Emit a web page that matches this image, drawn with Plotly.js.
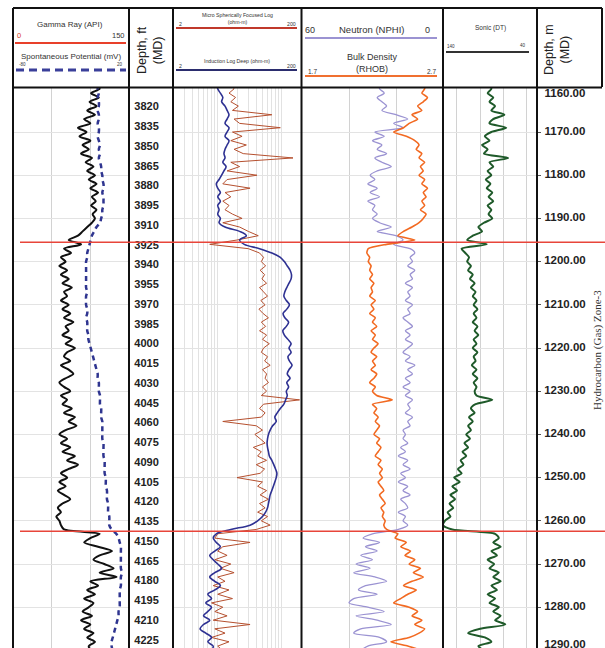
<!DOCTYPE html>
<html><head><meta charset="utf-8">
<script src="https://cdn.plot.ly/plotly-3.0.1.min.js"></script>
<style>html,body{margin:0;padding:0;background:#fff;}#chart{width:605px;height:648px;}</style>
</head><body><div id="chart"></div>
<script>
// ---------------- data ----------------
const depthM = [1159,
1160,1161,1162,1163,1164,1165,1166,1167,1168,1169,
1170,1171,1172,1173,1174,1175,1176,1177,1178,1179,
1180,1181,1182,1183,1184,1185,1186,1187,1188,1189,
1190,1191,1192,1193,1194,1195,1196,1197,1198,1199,
1200,1201,1202,1203,1204,1205,1206,1207,1208,1209,
1210,1211,1212,1213,1214,1215,1216,1217,1218,1219,
1220,1221,1222,1223,1224,1225,1226,1227,1228,1229,
1230,1231,1232,1233,1234,1235,1236,1237,1238,1239,
1240,1241,1242,1243,1244,1245,1246,1247,1248,1249,
1250,1251,1252,1253,1254,1255,1256,1257,1258,1259,
1260,1261,1262,1263,1264,1265,1266,1267,1268,1269,
1270,1271,1272,1273,1274,1275,1276,1277,1278,1279,
1280,1281,1282,1283,1284,1285,1286,1287,1288,1289,
1290];

const gammaRay = [108,
112,101,111,99,108,96,106,92,100,84,
95,86,100,90,98,88,102,94,104,96,
106,98,108,100,110,102,107,101,108,103,
106,102,96,90,84,72,88,66,75,62,
68,60,70,62,72,64,76,66,70,62,
72,64,74,66,78,68,72,64,76,68,
80,70,66,74,62,72,78,68,60,66,
74,62,70,64,76,66,80,72,82,68,
60,70,62,74,64,80,70,84,72,62,
70,60,68,58,66,74,64,58,62,56,
60,62,66,112,100,92,110,128,112,104,
118,130,112,134,100,110,96,106,92,104,
98,90,102,88,100,92,104,96,106,98,
100];

const spontPot = [-7,
-7,-6,-7,-6,-6,-7,-6,-6,-7,-6,
-6,-7,-6,-5,-6,-5,-6,-5,-4,-4,
-3,-3,-2,-2,-3,-2,-2,-2,-3,-3,
-4,-5,-8,-10,-12,-13,-14,-15,-16,-16,
-17,-17,-17,-17,-17,-17,-17,-16,-17,-17,
-17,-16,-16,-17,-16,-16,-16,-15,-15,-14,
-13,-12,-11,-10,-9,-8,-7,-7,-6,-6,
-6,-5,-5,-5,-4,-4,-4,-3,-3,-3,
-3,-3,-2,-2,-2,-2,-1,-1,-1,-1,
0,0,0,1,1,1,2,2,2,3,
3,3,5,9,11,12,13,13,13,13,
13,13,14,13,13,13,12,12,12,12,
12,11,11,10,9,8,7,6,5,5,
6];

const msfl = [16,
18,15,19,16,21,17,70,18,22,95,
17,24,16,28,18,25,150,16,22,14,
41,14,12,32,13,16,12,15,13,17,
24,12,22,30,43,20,7.5,30,45,52,
48,56,46,54,49,58,45,52,60,47,
55,44,51,62,48,56,45,58,50,64,
52,48,60,54,66,50,58,55,62,50,
58,48,190,52,45,55,48,12,40,50,
38,46,55,36,48,42,58,40,54,46,
20,50,42,58,46,62,45,55,42,60,
48,66,40,10,9,32,12,10,14,9,
16,11,18,10,13,8.5,15,10,17,8,
12,9,14,8.5,32,9,13,8,15,10,
12];

const ild = [10,
10,11,12,11.5,13,14,15,14,13,15,
14,13,15,14,13,12.5,13,12,13.5,12.5,
11.5,10.5,9.5,10,11,10,11,10,10.5,10,
11,10.5,13,22,28,22,26,45,70,95,
110,122,135,142,140,130,120,112,108,118,
132,120,105,112,128,118,104,110,125,140,
130,140,125,132,145,130,122,135,120,128,
118,122,115,108,95,85,78,82,72,66,
62,60,59,60,62,64,70,75,80,84,
82,78,74,70,66,64,62,60,56,50,
42,32,16,9.5,8.5,9.5,11,9,7.5,8.5,
10,11.5,9,7.5,9,11,9,7,8,6.5,
8,7,6,7.5,6,5.3,6.5,8,7,8.5,
8];

const nphi = [27,
27,25,28,26,24,26,20,15,21,17,
29,25,30,26,28,24,29,26,22,28,
31,29,32,28,31,27,32,29,30,28,
30,27,22,28,20,17,21,14,12,14,
13,15,12,14,13,16,13,15,14,16,
13,15,14,17,15,13,16,14,16,13,
15,17,14,16,12,15,13,16,14,17,
14,16,13,15,14,16,13,15,14,17,
16,17,15,18,16,19,15,17,14,18,
16,19,15,17,14,18,16,15,19,16,
17,15,19,30,34,27,33,28,35,30,
37,31,38,29,24,33,36,28,38,40,
32,25,37,28,22,35,38,27,24,32,
35];

const rhob = [2.57,
2.57,2.55,2.59,2.56,2.52,2.55,2.48,2.52,2.46,2.42,
2.35,2.44,2.50,2.53,2.51,2.55,2.53,2.57,2.54,2.56,
2.53,2.57,2.55,2.59,2.56,2.58,2.55,2.57,2.54,2.58,
2.56,2.53,2.48,2.42,2.38,2.50,2.30,2.17,2.16,2.18,
2.17,2.19,2.18,2.20,2.18,2.21,2.19,2.20,2.18,2.22,
2.19,2.21,2.18,2.22,2.20,2.23,2.19,2.22,2.20,2.24,
2.21,2.19,2.23,2.20,2.22,2.19,2.23,2.21,2.18,2.22,
2.20,2.23,2.34,2.20,2.23,2.21,2.24,2.22,2.25,2.23,
2.21,2.25,2.23,2.26,2.24,2.22,2.26,2.24,2.27,2.25,
2.27,2.24,2.26,2.28,2.25,2.27,2.29,2.26,2.28,2.27,
2.29,2.28,2.30,2.38,2.36,2.44,2.40,2.47,2.43,2.50,
2.46,2.54,2.49,2.56,2.48,2.42,2.51,2.45,2.40,2.35,
2.46,2.52,2.48,2.55,2.50,2.57,2.53,2.46,2.33,2.45,
2.55];

const sonicDT = [90,
88,92,86,90,84,88,74,86,90,72,
88,95,90,98,92,96,70,90,86,92,
88,94,89,93,87,91,86,92,88,91,
87,96,102,98,108,114,93,120,116,112,
114,110,113,108,111,106,110,105,108,104,
107,103,107,104,108,103,106,102,107,104,
108,103,107,105,109,104,108,103,107,104,
106,104,87,105,110,106,112,108,113,110,
115,111,117,113,119,115,121,118,124,120,
128,122,130,125,132,127,133,129,135,132,
138,140,130,84,80,86,78,88,82,92,
85,90,80,86,78,88,82,92,84,90,
80,86,78,84,73,100,113,95,88,102,
96];

const zoneTopsM = [1195.5, 1262.4];
const depthFtLabels = [3820,3835,3850,3865,3880,3895,3910,3925,3940,3955,3970,3985,4000,4015,
  4030,4045,4060,4075,4090,4105,4120,4135,4150,4165,4180,4195,4210,4225];
const depthMLabels = [1160,1170,1180,1190,1200,1210,1220,1230,1240,1250,1260,1270,1280,1290];
const zoneLabel = 'Hydrocarbon (Gas) Zone-3';

// ---------------- layout helpers ----------------
const W = 605, H = 648;
const px = v => v / W;
const py = v => (H - v) / H;
const FT_PER_M = 3.28084;
const yTopM = 1159.81, yBotM = 1289.44;
const FONT = 'Liberation Sans, Arial, sans-serif';
const dataDomain = [0, py(88)];

const traces = [
  {x: gammaRay, y: depthM, xaxis: 'x', yaxis: 'y', mode: 'lines', line: {color: '#111', width: 2, shape: 'spline', smoothing: 0.8}, hoverinfo: 'skip'},
  {x: spontPot, y: depthM, xaxis: 'x2', yaxis: 'y', mode: 'lines', line: {color: '#2f3590', width: 2.5, dash: '5px,4px', shape: 'spline'}, hoverinfo: 'skip'},
  {x: msfl, y: depthM, xaxis: 'x4', yaxis: 'y', mode: 'lines', line: {color: '#b5502f', width: 1}, hoverinfo: 'skip'},
  {x: ild, y: depthM, xaxis: 'x4', yaxis: 'y', mode: 'lines', line: {color: '#2e3192', width: 1.6, shape: 'spline'}, hoverinfo: 'skip'},
  {x: nphi, y: depthM, xaxis: 'x5', yaxis: 'y', mode: 'lines', line: {color: '#9b93d2', width: 1.3, shape: 'spline', smoothing: 0.8}, hoverinfo: 'skip'},
  {x: rhob, y: depthM, xaxis: 'x6', yaxis: 'y', mode: 'lines', line: {color: '#f26a22', width: 1.6, shape: 'spline', smoothing: 0.6}, hoverinfo: 'skip'},
  {x: sonicDT, y: depthM, xaxis: 'x7', yaxis: 'y', mode: 'lines', line: {color: '#1f5a2a', width: 2, shape: 'spline', smoothing: 0.7}, hoverinfo: 'skip'},
  {x: depthFtLabels.map(() => 0.40), y: depthFtLabels, xaxis: 'x3', yaxis: 'y2', mode: 'text',
   text: depthFtLabels.map(String), textposition: 'middle center',
   textfont: {family: FONT, size: 11, color: '#222', weight: 'bold'}, hoverinfo: 'skip'},
  {x: depthMLabels.map(() => 0.43), y: depthMLabels, xaxis: 'x8', yaxis: 'y3', mode: 'text',
   text: depthMLabels.map(v => v.toFixed(2)),
   textposition: depthMLabels.map((v, i) => i === 0 ? 'bottom center' : (i === depthMLabels.length - 1 ? 'top center' : 'middle center')),
   textfont: {family: FONT, size: 11.5, color: '#222', weight: 'bold'}, hoverinfo: 'skip'}
];

const hiddenX = (dom, extra) => Object.assign({domain: dom, anchor: 'y', showticklabels: false, ticks: '', zeroline: false, showline: false, fixedrange: true}, extra || {});
const GRID = '#d2d2d2';

const layout = {
  width: W, height: H,
  margin: {l: 0, r: 0, t: 0, b: 0},
  paper_bgcolor: '#fff', plot_bgcolor: 'rgba(0,0,0,0)',
  showlegend: false,
  font: {family: FONT, color: '#222'},
  xaxis: hiddenX([px(13), px(129)], {range: [0, 150], dtick: 50, showgrid: true, gridcolor: GRID, gridwidth: 1}),
  xaxis2: {overlaying: 'x', anchor: 'y', range: [-80, 20], showgrid: false, showticklabels: false, ticks: '', zeroline: false},
  xaxis3: hiddenX([px(129), px(173)], {range: [0, 1], showgrid: false, anchor: 'y2'}),
  xaxis4: hiddenX([px(173), px(301)], {type: 'log', range: [Math.log10(2), Math.log10(200)], dtick: 'D1', showgrid: true, gridcolor: '#e2e2e2', gridwidth: 1}),
  xaxis5: hiddenX([px(302), px(443)], {range: [60, 0], dtick: 20, showgrid: true, gridcolor: GRID}),
  xaxis6: {overlaying: 'x5', anchor: 'y', range: [1.7, 2.7], showgrid: false, showticklabels: false, ticks: '', zeroline: false},
  xaxis7: hiddenX([px(443), px(536)], {range: [140, 40], dtick: 25, showgrid: true, gridcolor: GRID}),
  xaxis8: hiddenX([px(537), px(602)], {range: [0, 1], showgrid: false, anchor: 'y3'}),
  yaxis: {domain: dataDomain, anchor: 'x', range: [yBotM, yTopM], tick0: 1160, dtick: 10, showgrid: true, gridcolor: '#e3e3e3',
          showticklabels: false, ticks: '', zeroline: false, showline: false, fixedrange: true},
  yaxis2: {domain: dataDomain, anchor: 'x3', range: [yBotM * FT_PER_M, yTopM * FT_PER_M], showgrid: false,
           showticklabels: false, ticks: '', zeroline: false, showline: false},
  yaxis3: {domain: dataDomain, anchor: 'x8', side: 'left', range: [yBotM, yTopM], tick0: 1160, dtick: 10, showgrid: false,
           showticklabels: false, ticks: 'inside', ticklen: 4, tickwidth: 1, tickcolor: '#555', zeroline: false, showline: false}
};

// ---------------- frame & header shapes ----------------
const shapes = [];
const pline = (x0, y0, x1, y1, color, width, dash) => shapes.push({type: 'line', xref: 'paper', yref: 'paper',
  x0: px(x0), y0: py(y0), x1: px(x1), y1: py(y1), line: {color: color, width: width, dash: dash || 'solid'}, layer: 'above'});

// header box
pline(13, 8, 602, 8, '#111', 2);
pline(13, 8, 13, 648, '#111', 2);
pline(602, 8, 602, 87, '#111', 2);
pline(13, 87.5, 602, 87.5, '#111', 2);
[129, 173, 301.5, 443, 537].forEach(x => pline(x, 8, x, 648, '#111', 2));

// header legend lines
pline(15, 43, 126, 43, '#e8402a', 2);
pline(16, 70, 126, 70, '#3a3f9a', 3, '8px,5px');
pline(176, 28, 297, 28, '#c0392b', 2);
pline(176, 70, 297, 70, '#2b2d6e', 2);
pline(305, 38, 437, 38, '#9b93d2', 2);
pline(305, 76, 437, 76, '#f07030', 2);
pline(446, 52, 529, 52, '#333', 2);

// zone boundaries
zoneTopsM.forEach(z => shapes.push({type: 'line', xref: 'paper', yref: 'y', x0: px(20), x1: 1, y0: z, y1: z,
  line: {color: '#e8453a', width: 1.6}, layer: 'above'}));
layout.shapes = shapes;

// ---------------- header text ----------------
const ann = [];
const A = (text, x, y, size, opts) => ann.push(Object.assign({text: text, x: px(x), y: py(y), xref: 'paper', yref: 'paper',
  showarrow: false, xanchor: 'center', yanchor: 'middle', font: {family: FONT, size: size, color: '#333'}}, opts || {}));

A('Gamma Ray (API)', 70, 24, 8);
A('0', 19, 35, 7.5, {font: {family: FONT, size: 7.5, color: '#d9402a'}});
A('150', 118, 35, 7.5);
A('Spontaneous Potential (mV)', 71, 57, 8);
A('-80', 22, 64.5, 4.5);
A('20', 120, 64.5, 4.5);
A('Depth, ft<br>(MD)', 150, 50, 12.5, {textangle: -90, font: {family: FONT, size: 12.5, color: '#222'}});
A('Micro Spherically Focused Log<br>(ohm-m)', 237, 18.5, 5.2);
A('2', 180, 24, 5.2);
A('200', 291, 24, 5.2);
A('Induction Log Deep (ohm-m)', 237, 61, 5.2);
A('2', 180, 66, 5.2);
A('200', 291, 66, 5.2);
A('60', 310, 30, 9);
A('Neutron (NPHI)', 371, 30, 9.5);
A('0', 427, 30, 9);
A('Bulk Density<br>(RHOB)', 372, 63, 9);
A('1.7', 312, 71, 6.5);
A('2.7', 431, 71, 6.5);
A('Sonic (DT)', 490, 28, 6.5);
A('140', 451, 47, 4.5);
A('40', 523, 46, 4.5);
A('Depth, m<br>(MD)', 557, 50, 12.5, {textangle: -90, font: {family: FONT, size: 12.5, color: '#222'}});
A(zoneLabel, 597, 350, 11, {textangle: -90, font: {family: 'Liberation Serif, Times New Roman, serif', size: 11, color: '#333'}});
layout.annotations = ann;

Plotly.newPlot('chart', traces, layout, {displayModeBar: false, staticPlot: true});
</script>
</body></html>
